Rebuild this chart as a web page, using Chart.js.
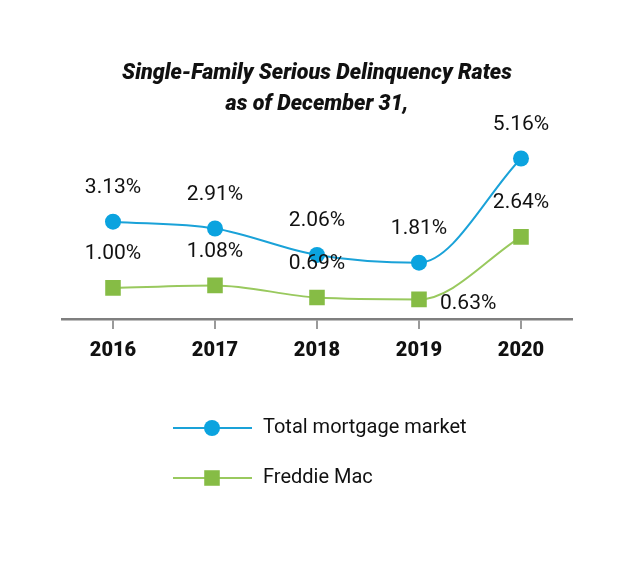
<!DOCTYPE html>
<html>
<head>
<meta charset="utf-8">
<script src="https://cdn.jsdelivr.net/npm/chart.js@4"></script>
<style>
  html, body { margin: 0; padding: 0; background: #fff; }
  #wrap { width: 636px; height: 576px; }
</style>
</head>
<body>
<div id="wrap"><canvas id="chart" width="636" height="576"></canvas></div>
<script>
// values, percent
const years = ['2016', '2017', '2018', '2019', '2020'];
const totalMarket = [3.13, 2.91, 2.06, 1.81, 5.16];
const freddieMac = [1.00, 1.08, 0.69, 0.63, 2.64];
const titleLines = ['Single-Family Serious Delinquency Rates', 'as of December 31,'];

const FONT = "Roboto, 'Liberation Sans', sans-serif";
const BLUE = '#0ba3df', GREEN = '#86bc45';

// value labels above each point ('right' puts it beside the point)
const valueLabels = {
    id: 'valueLabels',
    afterDatasetsDraw(chart) {
        const ctx = chart.ctx;
        ctx.save();
        ctx.font = '21px ' + FONT;
        ctx.fillStyle = '#111';
        ctx.textBaseline = 'middle';
        chart.data.datasets.forEach(function(ds, i) {
            chart.getDatasetMeta(i).data.forEach(function(pt, j) {
                const txt = ds.data[j].toFixed(2) + '%';
                if ((ds.labelSide || [])[j] === 'right') {
                    ctx.textAlign = 'left';
                    ctx.fillText(txt, pt.x + 21, pt.y + 4);
                } else {
                    ctx.textAlign = 'center';
                    ctx.fillText(txt, pt.x, pt.y - 34);
                }
            });
        });
        ctx.restore();
    }
};

// legend rows below the axis: line + marker + name
const lineLegend = {
    id: 'lineLegend',
    afterDraw(chart) {
        const ctx = chart.ctx;
        const x0 = 173, x1 = 252, top = chart.chartArea.bottom + 109;
        ctx.save();
        chart.data.datasets.forEach(function(ds, i) {
            const y = top + i * 50;
            ctx.strokeStyle = ds.borderColor;
            ctx.lineWidth = 2;
            ctx.beginPath(); ctx.moveTo(x0, y); ctx.lineTo(x1, y); ctx.stroke();
            ctx.fillStyle = ds.pointBackgroundColor;
            Chart.helpers.drawPoint(ctx, { pointStyle: ds.pointStyle, radius: ds.pointRadius, borderWidth: 0 }, (x0 + x1) / 2 - 0.5, y);
            ctx.fillStyle = '#111';
            ctx.font = '20px ' + FONT;
            ctx.textAlign = 'left';
            ctx.textBaseline = 'middle';
            ctx.fillText(ds.label, 263, y);
        });
        ctx.restore();
    }
};

new Chart(document.getElementById('chart'), {
    type: 'line',
    data: {
        labels: years,
        datasets: [
            { label: 'Total mortgage market', data: totalMarket, borderColor: '#1aa2d8', borderWidth: 2,
              pointBackgroundColor: BLUE, pointBorderWidth: 0, pointStyle: 'circle', pointRadius: 8,
              cubicInterpolationMode: 'monotone', labelSide: [] },
            { label: 'Freddie Mac', data: freddieMac, borderColor: '#99c95e', borderWidth: 2,
              pointBackgroundColor: GREEN, pointBorderWidth: 0, pointStyle: 'rect', pointRadius: 11,
              cubicInterpolationMode: 'monotone', labelSide: ['', '', '', 'right', ''] }
        ]
    },
    options: {
        responsive: false,
        animation: false,
        layout: { padding: { left: 62, right: 64, top: 0, bottom: 203 } },
        plugins: {
            legend: { display: false },
            tooltip: { enabled: false },
            title: {
                display: true,
                text: titleLines,
                color: '#111',
                font: { family: FONT, size: 21.5, weight: 900, style: 'italic', lineHeight: 1.45 },
                padding: { top: 58, bottom: 12 }
            }
        },
        scales: {
            x: {
                offset: true,
                border: { display: true, color: '#7f7f7f', width: 2.5 },
                grid: { drawOnChartArea: false, drawTicks: true, tickLength: 10, color: '#9a9a9a', lineWidth: 2, offset: false },
                ticks: { color: '#111', padding: 10, font: { family: FONT, size: 20, weight: 900 } }
            },
            y: { display: false, min: 0, max: 6 }
        }
    },
    plugins: [valueLabels, lineLegend]
});
</script>
</body>
</html>
